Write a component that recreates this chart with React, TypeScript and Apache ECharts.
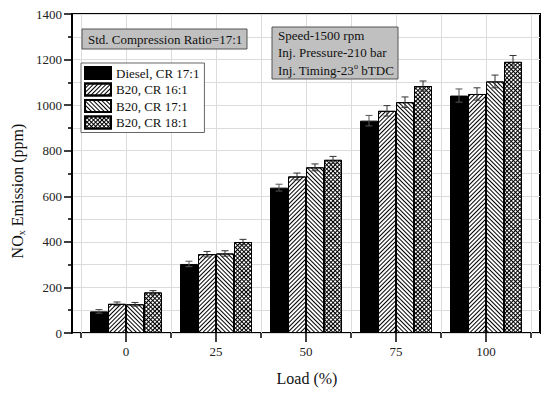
import React, { useEffect, useRef } from "react";
import * as echarts from "echarts";

const categories = ["0", "25", "50", "75", "100"];
const seriesNames = ["Diesel, CR 17:1", "B20, CR 16:1", "B20, CR 17:1", "B20, CR 18:1"];
const dieselCR17 = [95, 303, 638, 932, 1042];
const b20CR16 = [128, 346, 687, 975, 1049];
const b20CR17 = [126, 349, 727, 1013, 1104];
const b20CR18 = [178, 399, 760, 1084, 1190];
const errDiesel = [8, 12, 15, 23, 29];
const errB16 = [8, 12, 15, 23, 27];
const errB17 = [8, 12, 15, 23, 28];
const errB18 = [8, 12, 15, 22, 28];
const yTicks = [0, 200, 400, 600, 800, 1000, 1200, 1400];

const FONT = "Liberation Serif";

export default function App() {
  const ref = useRef<HTMLDivElement>(null);
  useEffect(() => {
    if (!ref.current) return;
    const chart = echarts.init(ref.current, null, { renderer: "svg" });
    const values = [dieselCR17, b20CR16, b20CR17, b20CR18];
    const errs = [errDiesel, errB16, errB17, errB18];
    const decals: any[] = [
      null,
      { symbol: "rect", symbolSize: 1, dashArrayX: [1, 0], dashArrayY: [1, 2], rotation: -Math.PI / 4, color: "#000" },
      { symbol: "rect", symbolSize: 1, dashArrayX: [1, 0], dashArrayY: [1, 2], rotation: Math.PI / 4, color: "#000" },
      { symbol: "rect", symbolSize: 1, dashArrayX: [2, 1], dashArrayY: [2, 1], rotation: Math.PI / 4, color: "#fff" },
    ];
    const fills = ["#000", "#fff", "#fff", "#000"];
    const barSeries = seriesNames.map((name, s) => ({
      name,
      type: "bar",
      xAxisIndex: 0,
      yAxisIndex: 0,
      barWidth: 18,
      barGap: "0%",
      data: values[s],
      itemStyle: {
        color: fills[s],
        borderColor: "#000",
        borderWidth: 1,
        decal: decals[s] || undefined,
      },
    }));
    const errData: number[][] = [];
    values.forEach((arr, s) => arr.forEach((v, i) => errData.push([i, v, errs[s][i], s])));

    const option: any = {
      animation: false,
      aria: { enabled: false },
      grid: [
        { left: 81, right: 19, top: 14, bottom: 60 },
        { left: 126, right: 64, top: 14, bottom: 60 },
        { left: 72, right: 10, top: 14, bottom: 60, show: true, borderColor: "#000", borderWidth: 2, backgroundColor: "transparent" },
      ],
      xAxis: [
        {
          type: "category",
          gridIndex: 0,
          data: categories,
          axisLine: { show: false },
          axisTick: { show: true, inside: false, length: 5, lineStyle: { color: "#000", width: 1.5 } },
          axisLabel: { fontFamily: FONT, fontSize: 13, color: "#222", margin: 12 },
          splitLine: { show: true, lineStyle: { color: "#dcdcdc", width: 1 } },
        },
        {
          type: "value",
          gridIndex: 1,
          min: 0,
          max: 4,
          interval: 1,
          axisLine: { show: false },
          axisTick: { show: true, inside: false, length: 9, lineStyle: { color: "#000", width: 1.5 } },
          axisLabel: { show: false },
          splitLine: { show: true, lineStyle: { color: "#dcdcdc", width: 1 } },
        },
        {
          type: "value",
          gridIndex: 2,
          min: 0,
          max: 1,
          show: false,
        },
      ],
      yAxis: [
        { type: "value", gridIndex: 0, min: 0, max: 1400, interval: 200, show: false },
        { type: "value", gridIndex: 1, min: 0, max: 1400, interval: 200, show: false },
        {
          type: "value",
          gridIndex: 2,
          min: 0,
          max: 1400,
          interval: 200,
          axisLine: { show: true, lineStyle: { color: "#000", width: 2 } },
          axisTick: { show: true, inside: false, length: 8, lineStyle: { color: "#000", width: 1.5 } },
          minorTick: { show: true, splitNumber: 2, length: 4, lineStyle: { color: "#000", width: 1.5 } },
          axisLabel: {
            fontFamily: FONT,
            fontSize: 13,
            color: "#222",
            margin: 10,
            formatter: (v: number) => (yTicks.includes(v) ? String(v) : ""),
          },
          splitLine: { show: true, lineStyle: { color: "#dcdcdc", width: 1 } },
          minorSplitLine: { show: true, lineStyle: { color: "#dcdcdc", width: 1 } },
        },
      ],
      legend: {
        orient: "vertical",
        left: 81,
        top: 63,
        data: seriesNames,
        itemWidth: 26,
        itemHeight: 12,
        itemGap: 2.5,
        padding: [3, 5, 3, 3],
        backgroundColor: "#fff",
        borderColor: "#666",
        borderWidth: 1,
        borderRadius: 0,
        icon: "rect",
        textStyle: { fontFamily: FONT, fontSize: 13, color: "#111", lineHeight: 12 },
        selectedMode: false,
      },
      series: [
        ...barSeries,
        {
          type: "custom",
          xAxisIndex: 0,
          yAxisIndex: 0,
          z: 5,
          encode: { x: 0, y: 1 },
          data: errData,
          renderItem: (params: any, api: any) => {
            const i = api.value(0);
            const v = api.value(1);
            const e = api.value(2);
            const s = api.value(3);
            const c = api.coord([i, v]);
            const x = c[0] + (s - 1.5) * 18;
            const yTop = api.coord([i, v + e])[1];
            const yBot = api.coord([i, v - e])[1];
            const cap = 3.5;
            const st = { stroke: s === 0 ? "#555" : "#333", lineWidth: 1 };
            return {
              type: "group",
              children: [
                { type: "line", shape: { x1: x, y1: yTop, x2: x, y2: yBot }, style: st },
                { type: "line", shape: { x1: x - cap, y1: yTop, x2: x + cap, y2: yTop }, style: st },
                { type: "line", shape: { x1: x - cap, y1: yBot, x2: x + cap, y2: yBot }, style: st },
              ],
            };
          },
        },
      ],
      graphic: [
        {
          type: "rect",
          shape: { x: 82, y: 29, width: 165, height: 20 },
          style: { fill: "#c0c0c0", stroke: "#555", lineWidth: 1 },
          z: 10,
        },
        {
          type: "text",
          x: 88,
          y: 39,
          style: { text: "Std. Compression Ratio=17:1", font: `13px '${FONT}'`, fill: "#111", verticalAlign: "middle" },
          z: 11,
        },
        {
          type: "rect",
          shape: { x: 272, y: 27, width: 126, height: 52 },
          style: { fill: "#c0c0c0", stroke: "#555", lineWidth: 1 },
          z: 10,
        },
        {
          type: "text",
          x: 278,
          y: 35,
          style: { text: "Speed-1500 rpm", font: `13px '${FONT}'`, fill: "#111", verticalAlign: "middle" },
          z: 11,
        },
        {
          type: "text",
          x: 278,
          y: 52,
          style: { text: "Inj. Pressure-210 bar", font: `13px '${FONT}'`, fill: "#111", verticalAlign: "middle" },
          z: 11,
        },
        {
          type: "text",
          x: 278,
          y: 70,
          style: {
            text: "Inj. Timing-23{sup|o} bTDC",
            fontFamily: FONT,
            fontSize: 13,
            fill: "#111",
            verticalAlign: "middle",
            rich: {
              sup: { fontFamily: FONT, fontSize: 8, lineHeight: 13, padding: [0, 0, 7, 0], fill: "#111" },
            },
          },
          z: 11,
        },
        {
          type: "text",
          x: 17,
          y: 191,
          rotation: Math.PI / 2,
          style: {
            text: "NO{sub|x} Emission (ppm)",
            fontFamily: FONT,
            fontSize: 16,
            fill: "#111",
            align: "center",
            verticalAlign: "middle",
            rich: {
              sub: { fontFamily: FONT, fontSize: 10, padding: [8, 0, 0, 0], fill: "#111" },
            },
          },
        },
        {
          type: "text",
          x: 307,
          y: 378,
          style: {
            text: "Load (%)",
            fontFamily: FONT,
            fontSize: 16,
            fill: "#111",
            align: "center",
            verticalAlign: "middle",
          },
        },
      ],
    };
    chart.setOption(option);
    return () => chart.dispose();
  }, []);
  return <div ref={ref} style={{ width: 550, height: 393, position: "absolute", left: 0, top: 0 }} />;
}
